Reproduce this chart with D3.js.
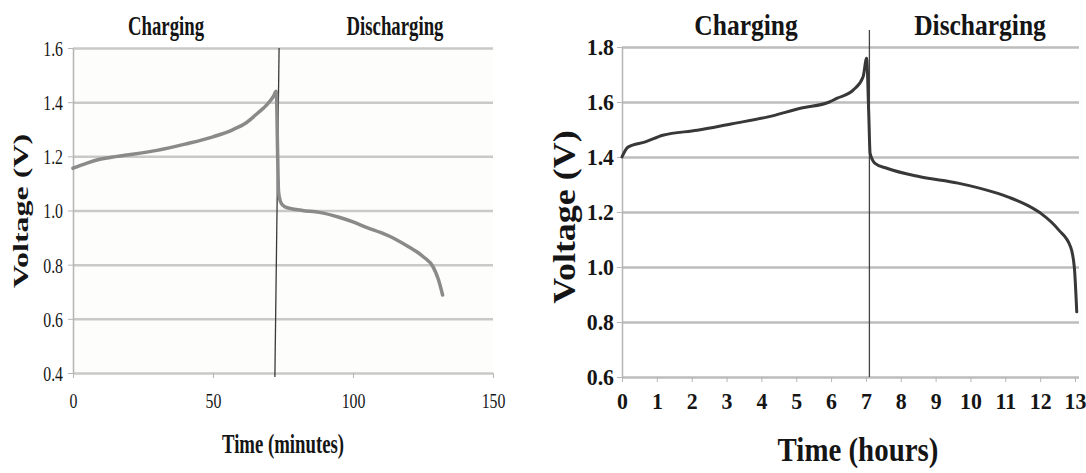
<!DOCTYPE html>
<html lang="en">
<meta charset="utf-8">
<head>
<script src="https://d3js.org/d3.v7.min.js"></script>
</head>
<body style="margin:0;background:#fff">
<svg id="chart" width="1086" height="473"></svg>

<style>
  svg text { font-family: "Liberation Serif", "Times New Roman", serif; fill: #151515; }
</style>

<script>
// left cell, time in minutes
var minTime = [0, 5, 9.6, 15, 20, 30, 40, 50, 57, 62, 66, 69.2, 71.5, 72.6, 73.1, 73.4, 74.2, 75.5, 77.5, 82, 88, 95, 100, 105, 110, 115, 120, 125, 128.7, 130.5, 132];
var minVolt = [1.156, 1.175, 1.189, 1.199, 1.206, 1.222, 1.245, 1.272, 1.298, 1.325, 1.36, 1.39, 1.42, 1.44, 1.2, 1.07, 1.03, 1.015, 1.008, 1.0, 0.993, 0.975, 0.958, 0.937, 0.918, 0.895, 0.865, 0.83, 0.79, 0.745, 0.688];
var minTicksX = [0, 50, 100, 150];
var minTicksY = [0.4, 0.6, 0.8, 1.0, 1.2, 1.4, 1.6];
var minSwitch = [[73.6, 1.6], [72.1, 0.385]];

// right cell, time in hours
var hrTime = [0, 0.17, 0.67, 1.17, 2.16, 3.16, 4.16, 5.15, 5.95, 6.16, 6.64, 6.92, 7.02, 7.08, 7.12, 7.26, 7.6, 8.55, 9.64, 10.64, 11.13, 11.64, 12.03, 12.53, 12.87, 12.98, 13.05];
var hrVolt = [1.40, 1.436, 1.455, 1.479, 1.497, 1.521, 1.545, 1.578, 1.60, 1.613, 1.644, 1.692, 1.759, 1.56, 1.413, 1.377, 1.359, 1.328, 1.305, 1.273, 1.252, 1.224, 1.194, 1.135, 1.074, 1.0, 0.837];
var hrTicksX = [0, 1, 2, 3, 4, 5, 6, 7, 8, 9, 10, 11, 12, 13];
var hrTicksY = [0.6, 0.8, 1.0, 1.2, 1.4, 1.6, 1.8];
var hrSwitch = [[7.1, 1.862], [7.1, 0.6]];

var phases = ["Charging", "Discharging"];

var serif = '"Liberation Serif", "Times New Roman", serif';
var svg = d3.select("#chart");

function squeezed(parent, str, x, y, s, size, weight, rot) {
  var g = parent.append("g")
    .attr("transform", "translate(" + x + "," + y + ") scale(" + s + ",1)" + (rot ? " rotate(-90)" : ""));
  g.append("text")
    .attr("text-anchor", "middle")
    .style("font-family", serif)
    .style("font-size", size + "px")
    .style("font-weight", weight)
    .text(str);
}

function panel(o) {
  var g = svg.append("g");
  var x = d3.scaleLinear().domain(o.xDomain).range(o.xRange);
  var y = d3.scaleLinear().domain(o.yDomain).range(o.yRange);

  if (o.bg) {
    g.append("rect")
      .attr("x", o.xRange[0]).attr("y", o.yRange[1])
      .attr("width", o.xRange[1] - o.xRange[0] + o.gridExtra)
      .attr("height", o.yRange[0] - o.yRange[1])
      .attr("fill", o.bg);
  }

  // grid lines
  var grid = g.append("g")
    .attr("transform", "translate(" + o.xRange[0] + ",0)")
    .call(d3.axisLeft(y).tickValues(o.ticksY).tickFormat("")
      .tickSize(-(o.xRange[1] - o.xRange[0] + o.gridExtra)));
  grid.select(".domain").remove();
  grid.selectAll("line").attr("stroke", o.gridColor).attr("stroke-width", 2.5);

  // y axis
  var ya = g.append("g")
    .attr("transform", "translate(" + o.xRange[0] + ",0)")
    .call(d3.axisLeft(y).tickValues(o.ticksY).tickFormat(d3.format(".1f"))
      .tickSize(5).tickSizeOuter(0));
  ya.attr("font-family", null);
  ya.select(".domain").attr("stroke", "#b5b5b5").attr("stroke-width", 1.5);
  ya.selectAll(".tick line").attr("stroke", "#b5b5b5");
  ya.selectAll(".tick text")
    .attr("x", -o.yPad / o.tickSqueeze)
    .attr("dy", "0.34em")
    .attr("transform", "scale(" + o.tickSqueeze + ",1)")
    .attr("fill", "#151515")
    .style("font-family", serif)
    .style("font-size", o.tickSize + "px")
    .style("font-weight", o.weight);

  // x axis
  var xa = g.append("g")
    .attr("transform", "translate(0," + o.yRange[0] + ")")
    .call(d3.axisBottom(x).tickValues(o.ticksX).tickSize(5).tickPadding(o.xPad).tickSizeOuter(0));
  xa.attr("font-family", null);
  xa.select(".domain").remove();
  xa.selectAll(".tick line").attr("stroke", "#b5b5b5");
  xa.selectAll(".tick text")
    .attr("transform", "scale(" + o.tickSqueeze + ",1)")
    .attr("fill", "#151515")
    .style("font-family", serif)
    .style("font-size", o.tickSize + "px")
    .style("font-weight", o.weight);

  // phase switch line
  g.append("path")
    .datum(o.switchPts)
    .attr("fill", "none")
    .attr("stroke", o.switchColor)
    .attr("stroke-width", 1.3)
    .attr("d", d3.line().x(function(d) { return x(d[0]); }).y(function(d) { return y(d[1]); }));

  // voltage curve
  var pts = o.time.map(function(t, i) { return [t, o.volt[i]]; });
  g.append("path")
    .datum(pts)
    .attr("fill", "none")
    .attr("stroke", o.lineColor)
    .attr("stroke-width", o.lineWidth)
    .attr("stroke-linejoin", "round")
    .attr("stroke-linecap", "round")
    .attr("d", d3.line().curve(d3.curveMonotoneX)
      .x(function(d) { return x(d[0]); }).y(function(d) { return y(d[1]); }));

  // titles
  squeezed(g, phases[0], o.chargeX, o.phaseY, o.titleSqueeze, o.phaseSize, "bold");
  squeezed(g, phases[1], o.dischargeX, o.phaseY, o.titleSqueeze, o.phaseSize, "bold");
  squeezed(g, o.xLabel, o.xLabelX, o.xLabelY, o.titleSqueeze, o.xLabelSize, "bold");
  squeezed(g, "Voltage (V)", o.yLabelX, o.yLabelY, o.titleSqueeze, o.yLabelSize, "bold", true);
}

panel({
  time: minTime, volt: minVolt, ticksX: minTicksX, ticksY: minTicksY, switchPts: minSwitch,
  xDomain: [0, 150], xRange: [73, 493], yDomain: [0.4, 1.6], yRange: [373, 48],
  bg: "#fdfdfc", gridExtra: 0, gridColor: "#c9c9c7",
  tickSize: 22, tickSqueeze: 0.72, weight: "normal", yPad: 10, xPad: 14,
  lineColor: "#8a8a8a", lineWidth: 3.5, switchColor: "#3a3a3a",
  titleSqueeze: 0.67, phaseSize: 28, phaseY: 35, chargeX: 166, dischargeX: 395,
  xLabel: "Time (minutes)", xLabelX: 283, xLabelY: 453, xLabelSize: 28,
  yLabelX: 28, yLabelY: 211, yLabelSize: 32
});

panel({
  time: hrTime, volt: hrVolt, ticksX: hrTicksX, ticksY: hrTicksY, switchPts: hrSwitch,
  xDomain: [0, 13], xRange: [622, 1075], yDomain: [0.6, 1.8], yRange: [377, 47],
  bg: null, gridExtra: 4, gridColor: "#bdbdbd",
  tickSize: 23, tickSqueeze: 0.95, weight: "bold", yPad: 8, xPad: 11,
  lineColor: "#383838", lineWidth: 3, switchColor: "#444",
  titleSqueeze: 0.85, phaseSize: 30, phaseY: 35, chargeX: 746, dischargeX: 980,
  xLabel: "Time (hours)", xLabelX: 858, xLabelY: 461, xLabelSize: 34,
  yLabelX: 575, yLabelY: 217, yLabelSize: 36
});
</script>
</body>
</html>
